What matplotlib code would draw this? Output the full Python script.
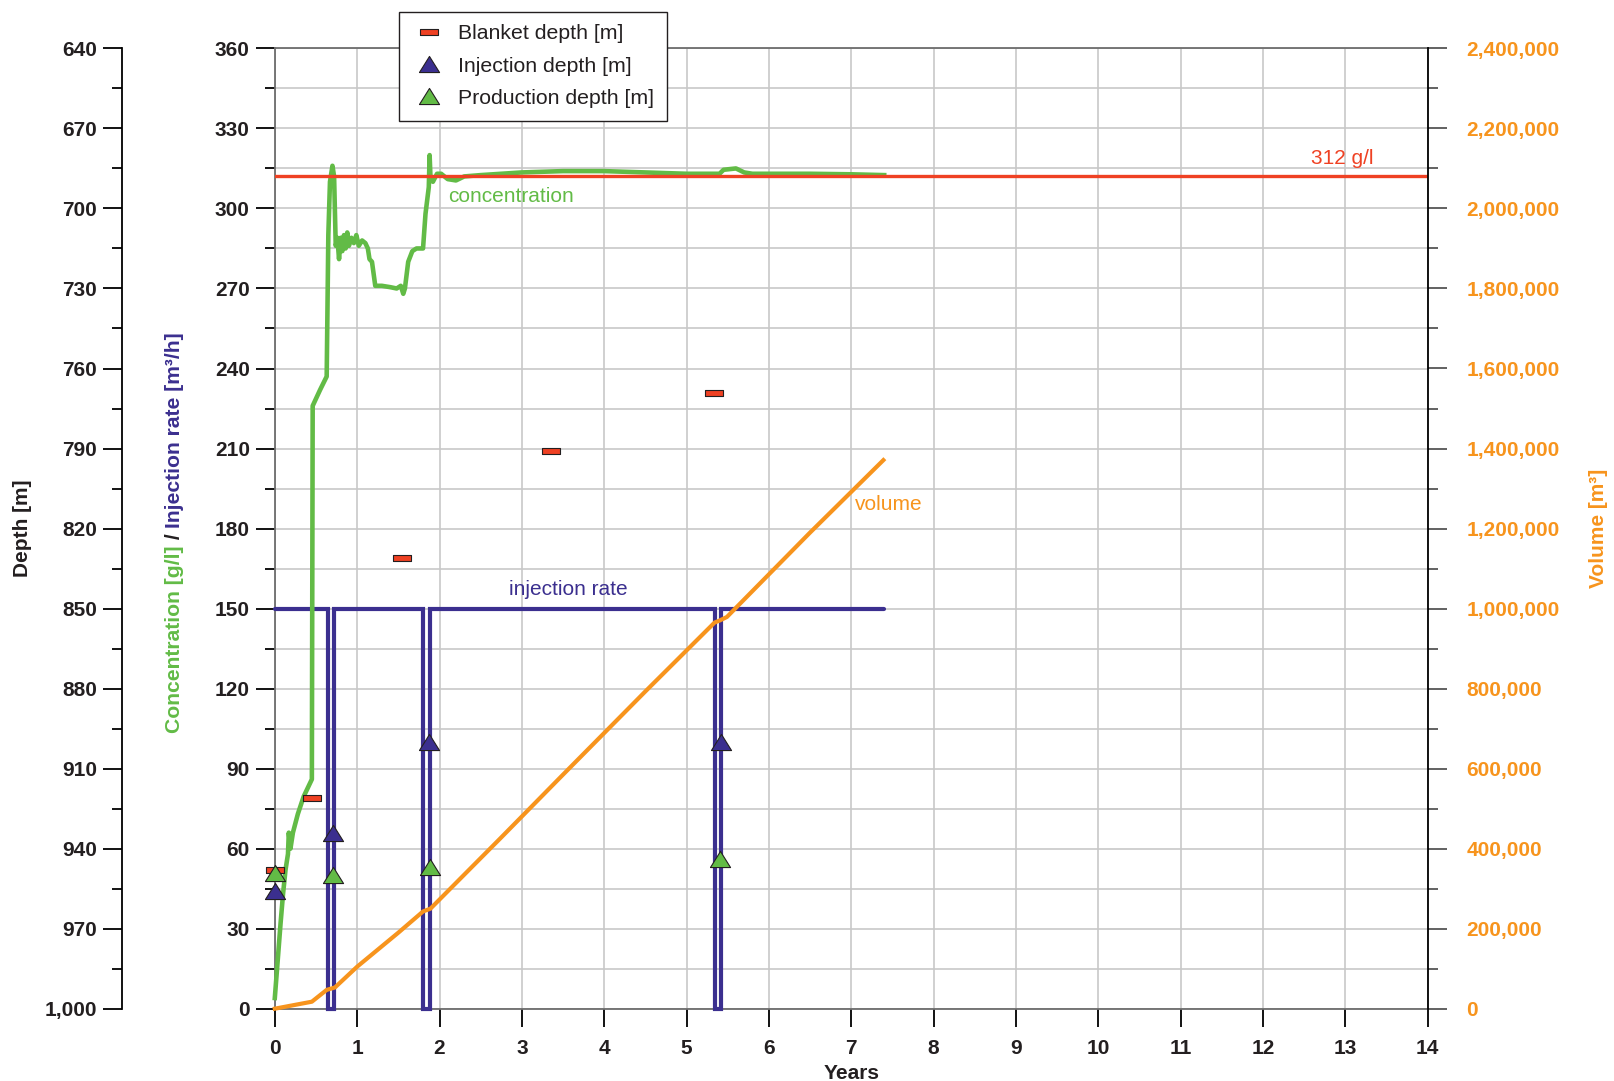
import matplotlib

matplotlib.use("Agg")
import matplotlib.pyplot as plt
from matplotlib.lines import Line2D
from matplotlib.ticker import MultipleLocator, FixedLocator, FuncFormatter

plt.rcParams["font.family"] = ["Liberation Sans", "DejaVu Sans"]

# --- data ------------------------------------------------------------------
conc_years = [0.0, 0.02, 0.04, 0.07, 0.10, 0.13, 0.16, 0.17, 0.19, 0.22, 0.28,
              0.35, 0.45, 0.46, 0.55, 0.63, 0.65, 0.67, 0.70, 0.72, 0.74, 0.76,
              0.78, 0.80, 0.82, 0.84, 0.86, 0.88, 0.90, 0.93, 0.96, 0.99, 1.02,
              1.06, 1.10, 1.13, 1.15, 1.18, 1.22, 1.30, 1.40, 1.48, 1.53, 1.56,
              1.58, 1.62, 1.67, 1.72, 1.80, 1.83, 1.87, 1.88, 1.89, 1.92, 1.97,
              2.02, 2.10, 2.20, 2.30, 2.50, 3.00, 3.50, 4.00, 4.50, 5.00, 5.40,
              5.45, 5.60, 5.70, 5.80, 6.50, 7.00, 7.40]
conc_gl = [4, 12, 20, 32, 43, 52, 58, 66, 60, 66, 73,
           79.5, 86, 226, 232, 237, 290, 310, 316, 312, 286, 289,
           281, 289, 284, 290, 285, 291, 286, 289, 287, 290, 286,
           288, 287, 285, 281, 280, 271, 271, 270.5, 270, 271, 268,
           270, 280, 284, 285, 285, 298, 308, 320, 312, 310, 313,
           313, 311, 310.5, 312, 312.5, 313.5, 314, 314, 313.5, 313, 313,
           314.5, 315, 313.5, 313, 313, 312.8, 312.5]

rate_years = [0.0, 0.64, 0.64, 0.72, 0.72, 1.80, 1.80, 1.88, 1.88,
              5.34, 5.34, 5.42, 5.42, 7.40]
rate_m3h = [150, 150, 0, 0, 150, 150, 0, 0, 150, 150, 0, 0, 150, 150]

vol_years = [0.0, 0.45, 0.63, 0.73, 1.0, 1.5, 1.80, 1.89, 2.74, 3.5, 4.5,
             5.34, 5.40, 5.49, 6.5, 7.39]
vol_m3 = [0, 17500, 47000, 53000, 105000, 190000, 243000, 250000, 426000,
          585000, 793000, 965000, 970000, 979000, 1190000, 1371000]

saturation = 312

blanket_years = [0.0, 0.45, 1.54, 3.36, 5.33]
blanket_depth = [948, 921, 831, 791, 769]
inj_years = [0.0, 0.71, 1.875, 5.42]
inj_depth = [956, 934, 900, 900]
prod_years = [0.0, 0.71, 1.885, 5.41]
prod_depth = [949, 950, 947, 944]

depth_ticks = list(range(640, 1001, 30))
depth_minor = list(range(655, 1000, 30))

# --- colours ----------------------------------------------------------------
GREEN = "#62bb46"
PURPLE = "#3b2f8f"
ORANGE = "#f7941d"
RED = "#ef4123"
INK = "#231f20"
GRID = "#c8c8c8"

W, H = 1614, 1081
fig = plt.figure(figsize=(W / 100, H / 100), dpi=100)
ax = fig.add_axes([274.8 / W, 1 - 1008.7 / H, (1427.7 - 274.8) / W, (1008.7 - 48.4) / H])
vol = ax.twinx()
depth = ax.twinx()

# main axis: concentration / injection rate
ax.set_xlim(0, 14)
ax.set_ylim(0, 360)
ax.xaxis.set_major_locator(MultipleLocator(1))
ax.yaxis.set_major_locator(MultipleLocator(30))
ax.yaxis.set_minor_locator(MultipleLocator(15))
ax.grid(True, which="both", color=GRID, lw=1.2)
ax.grid(False, which="minor", axis="x")
ax.set_axisbelow(True)
ax.tick_params(axis="y", which="major", direction="out", length=14, width=1.3,
               color="black", pad=4, labelsize=15, labelcolor=INK)
ax.tick_params(axis="y", which="minor", direction="out", length=7, width=1.3, color="black")
ax.tick_params(axis="x", direction="out", length=13, width=1.3, color="black",
               pad=9, labelsize=15, labelcolor=INK)
for lab in ax.get_xticklabels() + ax.get_yticklabels():
    lab.set_fontweight("bold")
for s in ["left", "top", "bottom"]:
    ax.spines[s].set_color("#6d6d6d")
    ax.spines[s].set_linewidth(1.3)
ax.spines["right"].set_visible(False)
ax.set_xlabel("Years", fontsize=15, fontweight="bold", color=INK, labelpad=4)

ax.plot(rate_years, rate_m3h, color=PURPLE, lw=3.0, solid_joinstyle="miter",
        solid_capstyle="round", clip_on=False, zorder=3)
ax.plot(conc_years, conc_gl, color=GREEN, lw=3.3, clip_on=False, zorder=4)
ax.axhline(saturation, color=RED, lw=2.4, zorder=5)

ax.text(12.96, saturation + 3, f"{saturation} g/l", color=RED, fontsize=15,
        ha="center", va="bottom")
ax.text(2.11, 304.4, "concentration", color=GREEN, fontsize=15, va="center")
ax.text(2.85, 157, "injection rate", color=PURPLE, fontsize=15, va="center")

# volume axis
vol.set_ylim(0, 2400000)
vol.yaxis.set_major_locator(MultipleLocator(200000))
vol.yaxis.set_minor_locator(MultipleLocator(100000))
vol.yaxis.set_major_formatter(FuncFormatter(lambda v, _: f"{v:,.0f}"))
vol.tick_params(axis="y", which="major", direction="out", length=14, width=1.3,
                color="#555555", pad=14, labelsize=15, labelcolor=ORANGE)
vol.tick_params(axis="y", which="minor", direction="out", length=7, width=1.3, color="#555555")
for lab in vol.get_yticklabels():
    lab.set_fontweight("bold")
for s in ["left", "top", "bottom"]:
    vol.spines[s].set_visible(False)
vol.spines["right"].set_color("black")
vol.spines["right"].set_linewidth(1.3)
vol.plot(vol_years, vol_m3, color=ORANGE, lw=3.0, clip_on=False, zorder=3)
vol.text(7.05, 189 * 2400000 / 360, "volume", color=ORANGE, fontsize=15, va="center")

# depth axis (outer left)
depth.set_ylim(1000, 640)
depth.yaxis.tick_left()
depth.spines["left"].set_position(("axes", (122 - 274.8) / (1427.7 - 274.8)))
for s in ["right", "top", "bottom"]:
    depth.spines[s].set_visible(False)
depth.spines["left"].set_color("black")
depth.spines["left"].set_linewidth(1.3)
depth.yaxis.set_major_locator(FixedLocator(depth_ticks))
depth.yaxis.set_minor_locator(FixedLocator(depth_minor))
depth.yaxis.set_major_formatter(FuncFormatter(lambda v, _: f"{v:,.0f}"))
depth.tick_params(axis="y", which="major", direction="out", length=14, width=1.3,
                  color="black", pad=4, labelsize=15, labelcolor=INK)
depth.tick_params(axis="y", which="minor", direction="out", length=7, width=1.3, color="black")
for lab in depth.get_yticklabels():
    lab.set_fontweight("bold")

rect = [(-3, -1), (3, -1), (3, 1), (-3, 1), (-3, -1)]
tri = [(-1, -0.8), (1, -0.8), (0, 0.8), (-1, -0.8)]
mk = dict(ls="none", mec=INK, mew=0.8, clip_on=False, zorder=6)
depth.plot(blanket_years, blanket_depth, marker=rect, ms=13.5, mfc=RED, **mk)
depth.plot(prod_years, prod_depth, marker=tri, ms=14.5, mfc=GREEN, **mk)
depth.plot(inj_years, inj_depth, marker=tri, ms=14.5, mfc=PURPLE, **mk)

# axis titles
fig.text(22.6 / W, 1 - 528 / H, "Depth [m]", rotation=90, fontsize=15,
         fontweight="bold", color=INK, ha="center", va="center")
fig.text(1598 / W, 1 - 528 / H, "Volume [m³]", rotation=90, fontsize=15,
         fontweight="bold", color=ORANGE, ha="center", va="center")
t1 = fig.text(175 / W, 1 - 733 / H, "Concentration [g/l]", rotation=90, fontsize=15.2,
              fontweight="bold", color=GREEN, ha="center", va="bottom")
t2 = fig.text(175 / W, 0, " / ", rotation=90, fontsize=15.2, fontweight="bold",
              color=INK, ha="center", va="bottom")
fig.canvas.draw()
r = fig.canvas.get_renderer()
bb1 = t1.get_window_extent(r)
t2.set_position((175 / W, bb1.y1 / H))
bb2 = t2.get_window_extent(r)
fig.text(175 / W, bb2.y1 / H, "Injection rate [m³/h]", rotation=90, fontsize=15.2,
         fontweight="bold", color=PURPLE, ha="center", va="bottom")

# legend
handles = [
    Line2D([], [], marker=rect, ms=13.5, mfc=RED, mec=INK, mew=0.8, ls="none"),
    Line2D([], [], marker=tri, ms=14.5, mfc=PURPLE, mec=INK, mew=0.8, ls="none"),
    Line2D([], [], marker=tri, ms=14.5, mfc=GREEN, mec=INK, mew=0.8, ls="none"),
]
leg = fig.legend(handles, ["Blanket depth [m]", "Injection depth [m]", "Production depth [m]"],
                 loc="upper left", bbox_to_anchor=(399 / W, 1 - 11.7 / H),
                 borderaxespad=0, fontsize=15.3, fancybox=False, framealpha=1,
                 edgecolor=INK, labelspacing=0.62, handletextpad=0.6,
                 borderpad=0.6, handlelength=1.6)
leg.get_frame().set_linewidth(1.0)
for t in leg.get_texts():
    t.set_color(INK)

fig.savefig("out.png", dpi=100)
